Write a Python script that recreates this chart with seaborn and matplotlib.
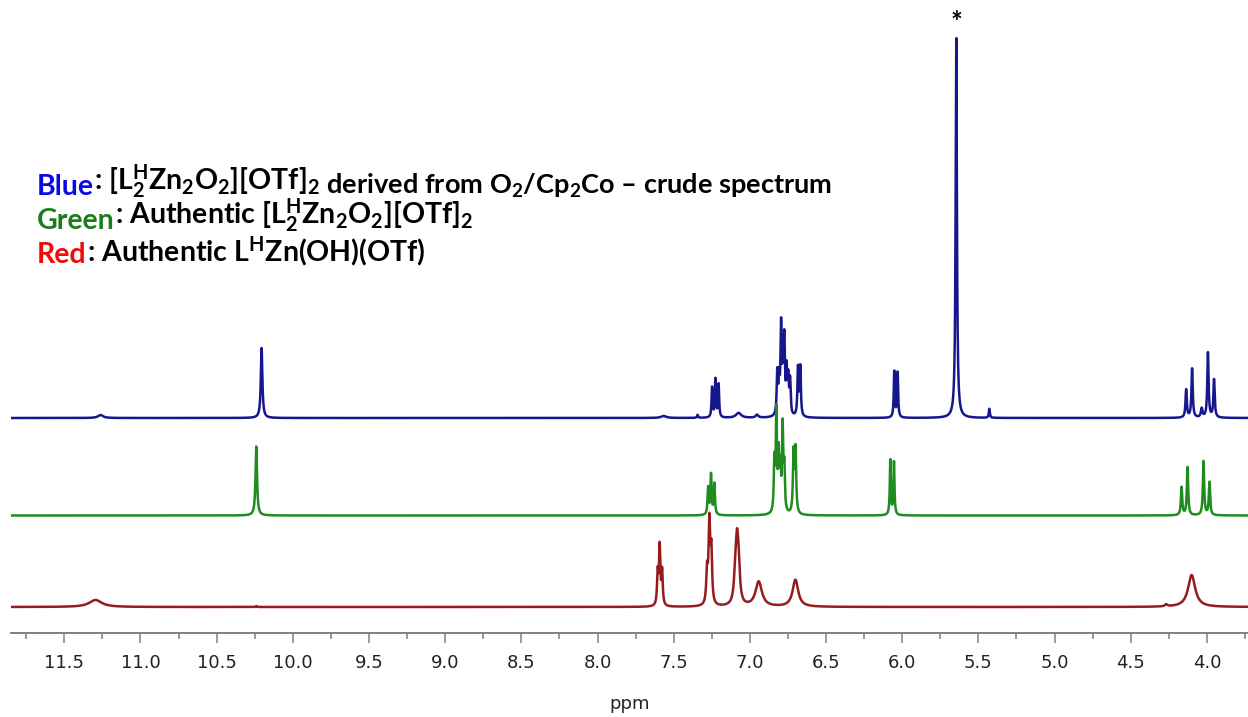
import numpy as np
import pandas as pd
import matplotlib
matplotlib.use("Agg")
import matplotlib.pyplot as plt
import seaborn as sns

# Resolved 1H NMR signals: chemical shift (ppm), peak intensity, half-width (ppm)
blue_shift = [11.262, 10.205, 7.566, 7.343, 7.248, 7.226, 7.205, 7.074, 6.953,
              6.820, 6.808, 6.795, 6.782, 6.774, 6.759, 6.748, 6.736,
              6.684, 6.669, 6.052, 6.030, 5.645, 5.428,
              4.136, 4.097, 4.034, 3.993, 3.953]
blue_height = [3, 70, 2, 3, 30, 38, 33, 5, 3,
               42, 33, 86, 52, 66, 42, 34, 34,
               48, 49, 46, 45, 380, 9,
               28, 49, 9, 65, 38]
blue_width = [0.02, 0.006, 0.02, 0.004, 0.004, 0.004, 0.004, 0.02, 0.01,
              0.0045, 0.0045, 0.0045, 0.0045, 0.0045, 0.0045, 0.0045, 0.0045,
              0.0045, 0.0045, 0.004, 0.004, 0.005, 0.004,
              0.005, 0.005, 0.006, 0.005, 0.005]

green_shift = [10.240, 7.274, 7.255, 7.233,
               6.839, 6.826, 6.811, 6.800, 6.785, 6.774,
               6.713, 6.700, 6.078, 6.054,
               4.166, 4.127, 4.022, 3.983]
green_height = [69, 27, 40, 31,
                50, 99, 55, 40, 84, 43,
                60, 63, 55, 53,
                28, 48, 54, 33]
green_width = [0.006, 0.0045, 0.0045, 0.0045,
               0.0045, 0.0045, 0.0045, 0.0045, 0.0045, 0.0045,
               0.005, 0.005, 0.004, 0.004,
               0.005, 0.005, 0.005, 0.005]

red_shift = [11.295, 10.240, 7.605, 7.592, 7.576,
             7.281, 7.266, 7.253, 7.095, 7.084, 7.074,
             6.942, 6.701, 4.267, 4.100]
red_height = [7, 1, 32, 58, 34,
              32, 80, 52, 27, 50, 31,
              25, 27, 2, 32]
red_width = [0.05, 0.004, 0.005, 0.005, 0.005,
             0.006, 0.006, 0.006, 0.01, 0.01, 0.01,
             0.025, 0.022, 0.01, 0.028]

tick_values = [11.5, 11.0, 10.5, 10.0, 9.5, 9.0, 8.5, 8.0, 7.5, 7.0,
               6.5, 6.0, 5.5, 5.0, 4.5, 4.0]
tick_labels = ["11.5", "11.0", "10.5", "10.0", "9.5", "9.0", "8.5", "8.0",
               "7.5", "7.0", "6.5", "6.0", "5.5", "5.0", "4.5", "4.0"]

series_names = ["Blue", "Green", "Red"]
line_colors = {"Blue": "#17178c", "Green": "#1f8c1f", "Red": "#951c1c"}
label_colors = {"Blue": "#0a0ae6", "Green": "#1a7d1a", "Red": "#f00a0a"}
stack_offset = {"Blue": 215, "Green": 117.5, "Red": 26}

ppm = np.linspace(11.85, 3.73, 16000)


def lorentzian_sum(x, shifts, heights, widths):
    y = np.zeros_like(x)
    for d, h, w in zip(shifts, heights, widths):
        y += h * w ** 2 / ((x - d) ** 2 + w ** 2)
    return y


peak_tables = {
    "Blue": (blue_shift, blue_height, blue_width),
    "Green": (green_shift, green_height, green_width),
    "Red": (red_shift, red_height, red_width),
}

frames = []
for name in series_names:
    s, h, w = peak_tables[name]
    frames.append(pd.DataFrame({
        "ppm": ppm,
        "signal": lorentzian_sum(ppm, s, h, w) + stack_offset[name],
        "spectrum": name,
    }))
df = pd.concat(frames, ignore_index=True)

sns.set_theme(style="white")
plt.rcParams["font.family"] = ["DejaVu Sans"]
plt.rcParams["mathtext.fontset"] = "custom"
plt.rcParams["mathtext.rm"] = "Lato:bold"
plt.rcParams["mathtext.it"] = "Lato:bold"
plt.rcParams["mathtext.bf"] = "Lato:bold"

W, H = 1248, 717
fig = plt.figure(figsize=(W / 100, H / 100), dpi=100)
ax = fig.add_axes([11 / W, 1 - 633 / H, (W - 11) / W, 633 / H])

for name in series_names:
    sns.lineplot(data=df[df["spectrum"] == name], x="ppm", y="signal",
                 color=line_colors[name], linewidth=1.8, estimator=None,
                 sort=False, ax=ax, legend=False)

ax.set_xlim(11.85, 3.73)
ax.set_ylim(0, 633)
ax.set_yticks([])
ax.set_ylabel("")
for side in ("left", "top", "right"):
    ax.spines[side].set_visible(False)
ax.spines["bottom"].set_color("#808080")
ax.spines["bottom"].set_linewidth(1.4)

ax.set_xticks(tick_values)
ax.set_xticklabels(tick_labels)
ax.set_xticks(np.arange(11.75, 3.7, -0.5), minor=True)
ax.tick_params(axis="x", which="major", bottom=True, direction="out",
               length=7, width=1.1, color="#808080", labelsize=13, pad=8,
               labelcolor="#222222")
ax.tick_params(axis="x", which="minor", bottom=True, direction="out",
               length=4, width=1.1, color="#808080")
ax.set_xlabel("ppm", fontsize=13, color="#222222", labelpad=17)

# marker above the tallest signal
ax.text(5.645, 610, "*", ha="center", va="center", fontsize=20,
        fontweight="bold", color="black", family="Lato")

# colour key drawn as chained text pieces
key_lines = [
    ("Blue", r": [L$^{H}_{2}$Zn$_{2}$O$_{2}$][OTf]$_{2}$",
     r" derived from O$_{2}$/Cp$_{2}$Co – crude spectrum"),
    ("Green", r": Authentic [L$^{H}_{2}$Zn$_{2}$O$_{2}$][OTf]$_{2}$", ""),
    ("Red", r": Authentic L$^{H}$Zn(OH)(OTf)", ""),
]
baselines = [195, 229, 263]
key_size = 20.5
tail_size = 19.5
for (word, rest, tail), yb in zip(key_lines, baselines):
    t = fig.text(37 / W, 1 - yb / H, word, color=label_colors[word],
                 fontsize=key_size, fontweight="bold", family="Lato",
                 ha="left", va="baseline")
    r = ax.annotate(rest, xy=(1, 0), xycoords=t, xytext=(0, 0),
                    textcoords="offset points", ha="left", va="bottom",
                    fontsize=key_size, fontweight="bold", family="Lato",
                    color="black", annotation_clip=False)
    if tail:
        ax.annotate(tail, xy=(1, 0), xycoords=t, xytext=(0, 0),
                    textcoords="offset points", ha="left", va="bottom",
                    fontsize=tail_size, fontweight="bold", family="Lato",
                    color="black", annotation_clip=False)
        tail_text = ax.texts[-1]
        tail_text.xycoords = r

fig.savefig("out.png", dpi=100)
